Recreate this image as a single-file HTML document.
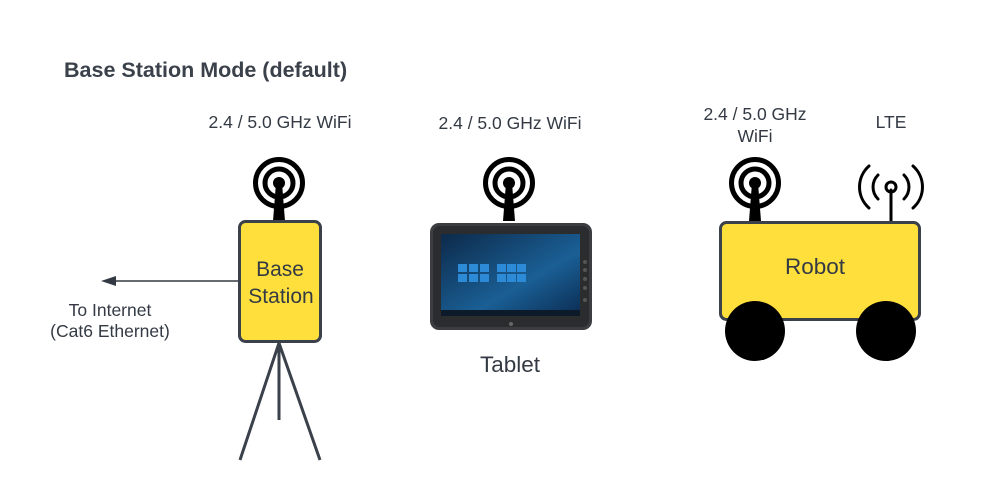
<!DOCTYPE html>
<html><head><meta charset="utf-8"><style>
html,body{margin:0;padding:0;background:#fff;}
svg{display:block;font-family:"Liberation Sans",sans-serif;}
</style></head><body>
<svg width="984" height="501" viewBox="0 0 984 501" xmlns="http://www.w3.org/2000/svg">
<defs>
<g id="wifi">
  <circle cx="0" cy="0" r="23.5" fill="none" stroke="#000" stroke-width="5"/>
  <circle cx="0" cy="0" r="14" fill="none" stroke="#000" stroke-width="5"/>
  <circle cx="0" cy="0" r="6" fill="#000"/>
  <polygon points="-3,0 3,0 6,38 -6,38" fill="#000"/>
</g>
</defs>
<text x="64" y="77" font-size="21.5" font-weight="bold" fill="#3a414a">Base Station Mode (default)</text>
<g font-size="17.5" fill="#333a44" text-anchor="middle">
<text x="280" y="128">2.4 / 5.0 GHz WiFi</text>
<text x="510" y="129">2.4 / 5.0 GHz WiFi</text>
<text x="755" y="120">2.4 / 5.0 GHz</text>
<text x="755" y="142">WiFi</text>
<text x="891" y="128">LTE</text>
<text x="110" y="316">To Internet</text>
<text x="110" y="337">(Cat6 Ethernet)</text>
</g>
<text x="510" y="372" font-size="22.5" fill="#333a44" text-anchor="middle">Tablet</text>

<!-- base station -->
<use href="#wifi" x="279" y="183"/>
<line x1="239" y1="281" x2="115" y2="281" stroke="#333a44" stroke-width="1.5"/>
<polygon points="101,281 116,276 116,286" fill="#333a44"/>
<g stroke="#3a414a" stroke-width="3" fill="none">
<line x1="279" y1="343" x2="240" y2="460"/>
<line x1="279" y1="343" x2="320" y2="460"/>
<line x1="279" y1="343" x2="279" y2="420"/>
</g>
<rect x="239.5" y="221.5" width="81" height="120" rx="6" fill="#ffdf3c" stroke="#3a414a" stroke-width="3"/>
<text x="280" y="276" font-size="21" fill="#333a44" text-anchor="middle">Base</text>
<text x="281" y="303" font-size="21" fill="#333a44" text-anchor="middle">Station</text>

<!-- tablet -->
<use href="#wifi" x="509" y="183"/>
<rect x="430" y="223" width="162" height="107" rx="9" fill="#3b3d40"/>
<rect x="433" y="226" width="156" height="101" rx="7" fill="#2a2c2e"/>
<defs><linearGradient id="scr" x1="0" y1="0" x2="1" y2="1"><stop offset="0" stop-color="#0d2a4a"/><stop offset="0.6" stop-color="#1a5f95"/><stop offset="1" stop-color="#0b2c52"/></linearGradient></defs>
<rect x="441" y="234" width="139" height="82" fill="url(#scr)"/>
<rect x="441" y="310" width="139" height="6" fill="#0c1a2a"/>
<g fill="#2d8ad6">
<rect x="458" y="264" width="9" height="8"/><rect x="469" y="264" width="9" height="8"/><rect x="480" y="264" width="9" height="8"/>
<rect x="458" y="274" width="9" height="8"/><rect x="469" y="274" width="9" height="8"/><rect x="480" y="274" width="9" height="8"/>
<rect x="497" y="264" width="9" height="8"/><rect x="507" y="264" width="9" height="8"/><rect x="517" y="264" width="9" height="8"/>
<rect x="497" y="274" width="9" height="8"/><rect x="507" y="274" width="9" height="8"/><rect x="517" y="274" width="9" height="8"/>
</g>
<circle cx="511" cy="324" r="2" fill="#666"/>
<g fill="#555"><circle cx="585" cy="262" r="2"/><circle cx="585" cy="270" r="2"/><circle cx="585" cy="279" r="2"/><circle cx="585" cy="288" r="2"/><circle cx="585" cy="300" r="2"/></g>

<!-- robot -->
<use href="#wifi" x="755" y="183"/>
<g stroke="#000" stroke-width="3" fill="none" stroke-linecap="round">
<line x1="891" y1="190" x2="891" y2="222"/>
<circle cx="891" cy="187" r="5"/>
<path d="M878,175 A17,17 0 0 0 878,199"/>
<path d="M904,175 A17,17 0 0 1 904,199"/>
<path d="M869,166 A28,28 0 0 0 869,208"/>
<path d="M913,166 A28,28 0 0 1 913,208"/>
</g>
<rect x="720.5" y="222.5" width="199" height="97" rx="6" fill="#ffdf3c" stroke="#3a414a" stroke-width="3"/>
<text x="815" y="274" font-size="22.5" fill="#333a44" text-anchor="middle">Robot</text>
<circle cx="755" cy="331" r="30" fill="#000"/>
<circle cx="886" cy="331" r="30" fill="#000"/>
</svg>
</body></html>
